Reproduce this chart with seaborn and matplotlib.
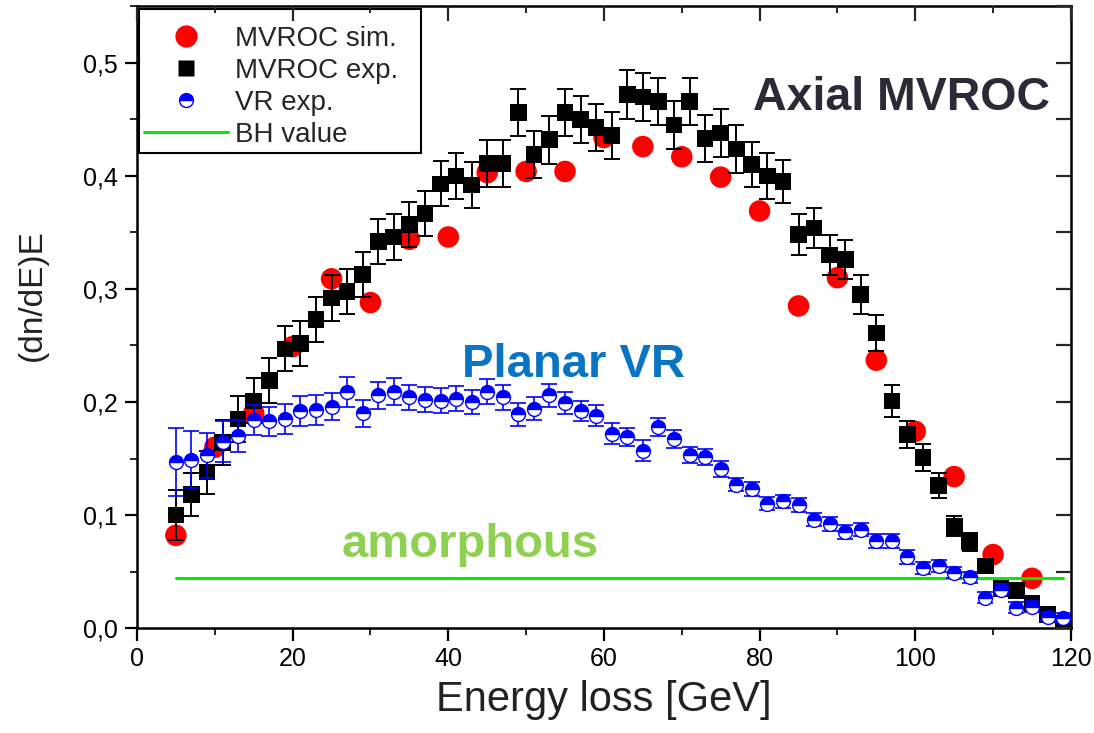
import numpy as np
import pandas as pd
import matplotlib
matplotlib.use("Agg")
import matplotlib.pyplot as plt
import seaborn as sns
from matplotlib.lines import Line2D
from matplotlib.ticker import MultipleLocator, FuncFormatter

# ---------------- data ----------------
x_sim = [5, 10, 15, 20, 25, 30, 35, 40, 45, 50, 55, 60, 65, 70, 75, 80, 85, 90, 95, 100, 105, 110, 115]
mvroc_sim = [0.082, 0.160, 0.190, 0.249, 0.309, 0.288, 0.344, 0.346, 0.403, 0.404, 0.404, 0.434,
             0.426, 0.417, 0.399, 0.369, 0.285, 0.310, 0.237, 0.174, 0.134, 0.065, 0.044]

x_exp = list(range(5, 120, 2))
mvroc_exp = [0.100, 0.118, 0.138, 0.164, 0.185, 0.201, 0.219, 0.247, 0.252, 0.273,
             0.292, 0.298, 0.313, 0.342, 0.346, 0.357, 0.367, 0.393, 0.400, 0.392,
             0.411, 0.411, 0.456, 0.419, 0.432, 0.456, 0.450, 0.443, 0.436, 0.472,
             0.470, 0.466, 0.445, 0.466, 0.433, 0.438, 0.424, 0.410, 0.400, 0.395,
             0.348, 0.354, 0.330, 0.326, 0.295, 0.261, 0.201, 0.171, 0.151, 0.126,
             0.090, 0.076, 0.055, 0.035, 0.033, 0.022, 0.012, 0.004]
mvroc_err = [0.022, 0.019, 0.019, 0.020, 0.020, 0.020, 0.020, 0.020, 0.020, 0.020,
             0.020, 0.020, 0.020, 0.020, 0.020, 0.020, 0.020, 0.020, 0.020, 0.020,
             0.021, 0.021, 0.021, 0.021, 0.021, 0.021, 0.021, 0.021, 0.021, 0.022,
             0.021, 0.021, 0.021, 0.021, 0.021, 0.021, 0.021, 0.020, 0.020, 0.019,
             0.018, 0.018, 0.018, 0.017, 0.017, 0.016, 0.014, 0.012, 0.012, 0.011,
             0.009, 0.008, 0.006, 0.004, 0.004, 0.003, 0.003, 0.003]

vr_exp = [0.147, 0.149, 0.153, 0.165, 0.170, 0.184, 0.183, 0.185, 0.192, 0.193,
          0.196, 0.209, 0.190, 0.206, 0.209, 0.204, 0.202, 0.201, 0.203, 0.200,
          0.209, 0.204, 0.189, 0.194, 0.206, 0.199, 0.192, 0.188, 0.172, 0.169,
          0.157, 0.178, 0.167, 0.153, 0.151, 0.141, 0.127, 0.123, 0.110, 0.112,
          0.109, 0.096, 0.092, 0.085, 0.087, 0.077, 0.077, 0.063, 0.053, 0.055,
          0.049, 0.045, 0.027, 0.034, 0.018, 0.019, 0.010, 0.009]
vr_err = [0.030, 0.025, 0.020, 0.018, 0.014, 0.013, 0.013, 0.013, 0.013, 0.013,
          0.012, 0.013, 0.012, 0.012, 0.012, 0.011, 0.011, 0.011, 0.011, 0.011,
          0.011, 0.011, 0.010, 0.010, 0.010, 0.010, 0.009, 0.009, 0.009, 0.008,
          0.009, 0.008, 0.008, 0.007, 0.007, 0.007, 0.006, 0.006, 0.006, 0.006,
          0.006, 0.006, 0.006, 0.006, 0.006, 0.006, 0.006, 0.006, 0.005, 0.005,
          0.005, 0.005, 0.005, 0.005, 0.005, 0.005, 0.004, 0.004]

bh_x = [5, 119]
bh_value = [0.044, 0.044]

legend_labels = ["MVROC sim.", "MVROC exp.", "VR exp.", "BH value"]
x_ticks = [0, 20, 40, 60, 80, 100, 120]
y_ticks = [0.0, 0.1, 0.2, 0.3, 0.4, 0.5]

# ---------------- style ----------------
sns.set_theme(style="ticks")
plt.rcParams["font.family"] = ["Liberation Sans", "DejaVu Sans"]

fig = plt.figure(figsize=(10.94, 7.33), dpi=100)
ax = fig.add_axes([0.1252, 0.1432, 0.8537, 0.848])

RED = "#ff0000"
BLUE = "#0000ff"
GREEN = "#00ee00"

# MVROC sim (red circles)
sns.scatterplot(x=x_sim, y=mvroc_sim, ax=ax, marker="o", s=15.5 ** 2, color=RED,
                edgecolor="none", linewidth=0, zorder=2, legend=False)

# BH value line
sns.lineplot(x=bh_x, y=bh_value, ax=ax, color=GREEN, linewidth=2.2, zorder=2.5, legend=False)

# MVROC exp (black squares with error bars)
ax.errorbar(x_exp, mvroc_exp, yerr=mvroc_err, fmt="none", ecolor="black",
            elinewidth=1.4, capsize=5.5, capthick=1.4, zorder=3)
sns.scatterplot(x=x_exp, y=mvroc_exp, ax=ax, marker="s", s=12 ** 2, color="black",
                edgecolor="none", linewidth=0, zorder=4, legend=False)

# VR exp (half-filled blue circles with error bars)
ax.errorbar(x_exp, vr_exp, yerr=vr_err, fmt="none", ecolor=BLUE,
            elinewidth=1.2, capsize=5.5, capthick=1.2, zorder=5)
sns.lineplot(x=x_exp, y=vr_exp, ax=ax, marker="o", linestyle="", markersize=10,
             fillstyle="top", markerfacecolor=BLUE, markerfacecoloralt="white",
             markeredgecolor=BLUE, markeredgewidth=1.0, zorder=6, legend=False,
             errorbar=None)

# annotations
ax.text(98.2, 0.4584, "Axial MVROC", fontsize=33.5, fontweight="bold",
        color="#2b2b38", ha="center", va="baseline", zorder=7)
ax.text(56.1, 0.2224, "Planar VR", fontsize=34, fontweight="bold",
        color="#0a74c4", ha="center", va="baseline", zorder=7)
ax.text(42.8, 0.0631, "amorphous", fontsize=34, fontweight="bold",
        color="#8ed152", ha="center", va="baseline", zorder=7)

# axes
ax.set_xlim(0, 120)
ax.set_ylim(0, 0.55)
ax.set_xticks(x_ticks)
ax.set_yticks(y_ticks)
ax.xaxis.set_minor_locator(MultipleLocator(10))
ax.yaxis.set_minor_locator(MultipleLocator(0.05))
ax.yaxis.set_major_formatter(FuncFormatter(lambda v, p: f"{v:.1f}".replace(".", ",")))
ax.tick_params(axis="both", which="major", direction="out", length=9, width=1.6,
               labelsize=18, colors="black", pad=5)
ax.tick_params(axis="both", which="minor", direction="out", length=5, width=1.4)
for sp in ax.spines.values():
    sp.set_linewidth(1.8)
    sp.set_color("black")
    sp.set_visible(True)

# mirrored inward ticks on the right
ax2 = ax.twinx()
ax2.set_ylim(ax.get_ylim())
ax2.yaxis.set_major_locator(MultipleLocator(0.05))
ax2.tick_params(axis="y", which="major", direction="in", length=11, width=1.6,
                labelright=False, right=True)
ax2.set_yticklabels([])
ax2.grid(False)
for sp in ax2.spines.values():
    sp.set_visible(False)

# mirrored inward ticks on the top
ax3 = ax.twiny()
ax3.set_xlim(ax.get_xlim())
ax3.xaxis.set_major_locator(MultipleLocator(20))
ax3.xaxis.set_minor_locator(MultipleLocator(10))
ax3.tick_params(axis="x", which="major", direction="in", length=11, width=1.6,
                labeltop=False, top=True)
ax3.tick_params(axis="x", which="minor", direction="in", length=5, width=1.4, top=True)
ax3.set_xticklabels([])
ax3.grid(False)
for sp in ax3.spines.values():
    sp.set_visible(False)

ax.set_xlabel("Energy loss [GeV]", fontsize=30, color="#222222", labelpad=6)
ax.set_ylabel("(dn/dE)E", fontsize=24, color="#222222")
ax.yaxis.set_label_coords(-0.095, 0.535)

handles = [
    Line2D([], [], marker="o", linestyle="", markersize=16, color=RED, markeredgecolor="none"),
    Line2D([], [], marker="s", linestyle="", markersize=12, color="black", markeredgecolor="none"),
    Line2D([], [], marker="o", linestyle="", markersize=10, fillstyle="top",
           markerfacecolor=BLUE, markerfacecoloralt="white", markeredgecolor=BLUE,
           markeredgewidth=1.0),
    Line2D([], [], color=GREEN, linewidth=2.2),
]
leg = ax.legend(handles, legend_labels, loc="upper left",
                bbox_to_anchor=(0.002, 0.0, 0.302, 0.996), mode="expand",
                title=" ", title_fontsize=4,
                frameon=True, fancybox=False, edgecolor="black", fontsize=20,
                handlelength=3.0, handletextpad=0.25, labelspacing=0.22,
                borderpad=0.2, borderaxespad=0)
leg.get_frame().set_linewidth(1.5)
leg.get_frame().set_alpha(1)
leg.set_zorder(10)

fig.savefig("out.png", dpi=100)
